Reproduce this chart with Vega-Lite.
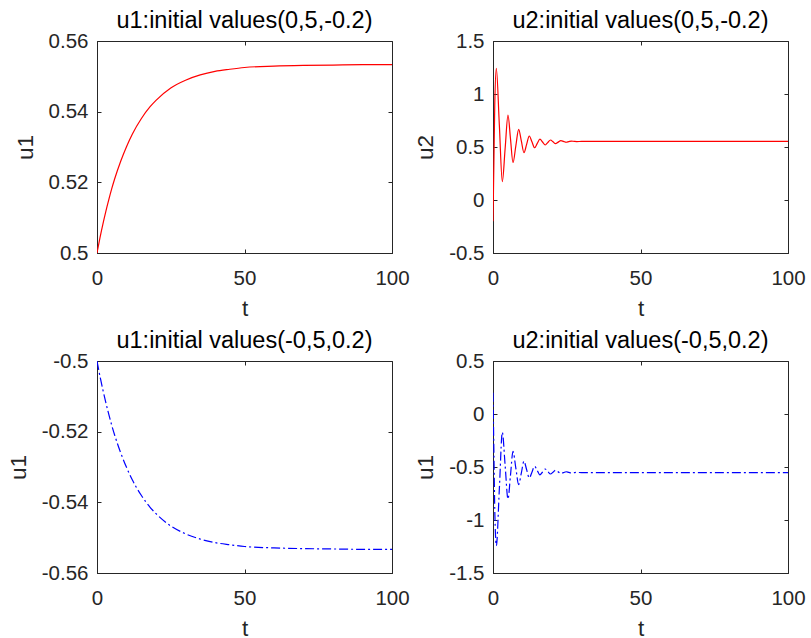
{
  "$schema": "https://vega.github.io/schema/vega-lite/v6.json",
  "background": "white",
  "padding": {"left": 6, "top": 8, "right": 5, "bottom": 0},
  "datasets": {
    "p1": [
      {"t": 0, "u": 0.5}, {"t": 1, "u": 0.5043}, {"t": 2, "u": 0.5082}, {"t": 3, "u": 0.5118},
      {"t": 4, "u": 0.5151}, {"t": 5, "u": 0.5182}, {"t": 6, "u": 0.521}, {"t": 8, "u": 0.5259},
      {"t": 10, "u": 0.5301}, {"t": 12, "u": 0.5337}, {"t": 15, "u": 0.538}, {"t": 18, "u": 0.5414},
      {"t": 20, "u": 0.5432}, {"t": 25, "u": 0.5467}, {"t": 30, "u": 0.5489}, {"t": 35, "u": 0.5504},
      {"t": 40, "u": 0.5514}, {"t": 45, "u": 0.552}, {"t": 50, "u": 0.5525}, {"t": 60, "u": 0.5529},
      {"t": 70, "u": 0.5531}, {"t": 80, "u": 0.5532}, {"t": 90, "u": 0.5533}, {"t": 100, "u": 0.5533}
    ],
    "p2": [
      {"t": 0, "u": -0.2}, {"t": 0.3, "u": 0.35}, {"t": 0.6, "u": 0.9}, {"t": 1.13, "u": 1.242},
      {"t": 2.15, "u": 0.708}, {"t": 3.16, "u": 0.173}, {"t": 4.12, "u": 0.488}, {"t": 5.08, "u": 0.802},
      {"t": 5.93, "u": 0.577}, {"t": 6.78, "u": 0.352}, {"t": 7.74, "u": 0.51}, {"t": 8.7, "u": 0.667},
      {"t": 9.6, "u": 0.557}, {"t": 10.5, "u": 0.446}, {"t": 11.4, "u": 0.525}, {"t": 12.3, "u": 0.604},
      {"t": 13.2, "u": 0.549}, {"t": 14.1, "u": 0.493}, {"t": 15.0, "u": 0.534}, {"t": 15.9, "u": 0.575},
      {"t": 16.8, "u": 0.547}, {"t": 17.7, "u": 0.519}, {"t": 18.6, "u": 0.543}, {"t": 19.5, "u": 0.566},
      {"t": 20.35, "u": 0.549}, {"t": 21.2, "u": 0.531}, {"t": 22.1, "u": 0.546}, {"t": 23.0, "u": 0.56},
      {"t": 23.9, "u": 0.553}, {"t": 24.8, "u": 0.545}, {"t": 25.7, "u": 0.551}, {"t": 26.6, "u": 0.556},
      {"t": 27.5, "u": 0.553}, {"t": 28.4, "u": 0.551}, {"t": 30, "u": 0.553}, {"t": 40, "u": 0.553},
      {"t": 60, "u": 0.553}, {"t": 80, "u": 0.553}, {"t": 100, "u": 0.553}
    ],
    "p3": [
      {"t": 0, "u": -0.5}, {"t": 1, "u": -0.5043}, {"t": 2, "u": -0.5082}, {"t": 3, "u": -0.5118},
      {"t": 4, "u": -0.5151}, {"t": 5, "u": -0.5182}, {"t": 6, "u": -0.521}, {"t": 8, "u": -0.5259},
      {"t": 10, "u": -0.5301}, {"t": 12, "u": -0.5337}, {"t": 15, "u": -0.538}, {"t": 18, "u": -0.5414},
      {"t": 20, "u": -0.5432}, {"t": 25, "u": -0.5467}, {"t": 30, "u": -0.5489}, {"t": 35, "u": -0.5504},
      {"t": 40, "u": -0.5514}, {"t": 45, "u": -0.552}, {"t": 50, "u": -0.5525}, {"t": 60, "u": -0.5529},
      {"t": 70, "u": -0.5531}, {"t": 80, "u": -0.5532}, {"t": 90, "u": -0.5533}, {"t": 100, "u": -0.5533}
    ],
    "p4": [
      {"t": 0, "u": 0.2}, {"t": 0.3, "u": -0.35}, {"t": 0.6, "u": -0.9}, {"t": 1.13, "u": -1.242},
      {"t": 2.15, "u": -0.708}, {"t": 3.16, "u": -0.173}, {"t": 4.12, "u": -0.488}, {"t": 5.08, "u": -0.802},
      {"t": 5.93, "u": -0.577}, {"t": 6.78, "u": -0.352}, {"t": 7.74, "u": -0.51}, {"t": 8.7, "u": -0.667},
      {"t": 9.6, "u": -0.557}, {"t": 10.5, "u": -0.446}, {"t": 11.4, "u": -0.525}, {"t": 12.3, "u": -0.604},
      {"t": 13.2, "u": -0.549}, {"t": 14.1, "u": -0.493}, {"t": 15.0, "u": -0.534}, {"t": 15.9, "u": -0.575},
      {"t": 16.8, "u": -0.547}, {"t": 17.7, "u": -0.519}, {"t": 18.6, "u": -0.543}, {"t": 19.5, "u": -0.566},
      {"t": 20.35, "u": -0.549}, {"t": 21.2, "u": -0.531}, {"t": 22.1, "u": -0.546}, {"t": 23.0, "u": -0.56},
      {"t": 23.9, "u": -0.553}, {"t": 24.8, "u": -0.545}, {"t": 25.7, "u": -0.551}, {"t": 26.6, "u": -0.556},
      {"t": 27.5, "u": -0.553}, {"t": 28.4, "u": -0.551}, {"t": 30, "u": -0.553}, {"t": 40, "u": -0.553},
      {"t": 60, "u": -0.553}, {"t": 80, "u": -0.553}, {"t": 100, "u": -0.553}
    ]
  },
  "columns": 2,
  "spacing": {"row": 108, "column": 101},
  "bounds": "flush",
  "concat": [
    {
      "width": 295, "height": 212,
      "title": "u1:initial values(0,5,-0.2)",
      "data": {"name": "p1"},
      "layer": [
        {
          "mark": {"type": "line", "color": "#ff0000", "strokeWidth": 1.2, "interpolate": "monotone", "clip": true},
          "encoding": {
            "x": {"field": "t", "type": "quantitative", "scale": {"domain": [0, 100], "nice": false},
                  "axis": {"orient": "bottom", "values": [0, 50, 100], "title": "t", "labelExpr": "'' + datum.value"}},
            "y": {"field": "u", "type": "quantitative", "scale": {"domain": [0.5, 0.56], "nice": false, "zero": false},
                  "axis": {"orient": "left", "values": [0.5, 0.52, 0.54, 0.56], "title": "u1", "labelExpr": "'' + datum.value"}}
          }
        },
        {
          "mark": {"type": "line", "opacity": 0},
          "encoding": {
            "x": {"field": "t", "type": "quantitative", "scale": {"domain": [0, 100], "nice": false},
                  "axis": {"orient": "top", "values": [0, 50, 100], "labels": false, "title": null, "domain": false}},
            "y": {"field": "u", "type": "quantitative", "scale": {"domain": [0.5, 0.56], "nice": false, "zero": false},
                  "axis": {"orient": "right", "values": [0.5, 0.52, 0.54, 0.56], "labels": false, "title": null, "domain": false}}
          }
        }
      ],
      "resolve": {"axis": {"x": "independent", "y": "independent"}}
    },
    {
      "width": 295, "height": 212,
      "title": "u2:initial values(0,5,-0.2)",
      "data": {"name": "p2"},
      "layer": [
        {
          "mark": {"type": "line", "color": "#ff0000", "strokeWidth": 1.2, "interpolate": "monotone", "clip": true},
          "encoding": {
            "x": {"field": "t", "type": "quantitative", "scale": {"domain": [0, 100], "nice": false},
                  "axis": {"orient": "bottom", "values": [0, 50, 100], "title": "t", "labelExpr": "'' + datum.value"}},
            "y": {"field": "u", "type": "quantitative", "scale": {"domain": [-0.5, 1.5], "nice": false, "zero": false},
                  "axis": {"orient": "left", "values": [-0.5, 0, 0.5, 1, 1.5], "title": "u2", "labelExpr": "'' + datum.value"}}
          }
        },
        {
          "mark": {"type": "line", "opacity": 0},
          "encoding": {
            "x": {"field": "t", "type": "quantitative", "scale": {"domain": [0, 100], "nice": false},
                  "axis": {"orient": "top", "values": [0, 50, 100], "labels": false, "title": null, "domain": false}},
            "y": {"field": "u", "type": "quantitative", "scale": {"domain": [-0.5, 1.5], "nice": false, "zero": false},
                  "axis": {"orient": "right", "values": [-0.5, 0, 0.5, 1, 1.5], "labels": false, "title": null, "domain": false}}
          }
        }
      ],
      "resolve": {"axis": {"x": "independent", "y": "independent"}}
    },
    {
      "width": 295, "height": 212,
      "title": "u1:initial values(-0,5,0.2)",
      "data": {"name": "p3"},
      "layer": [
        {
          "mark": {"type": "line", "color": "#0000ff", "strokeWidth": 1.2, "strokeDash": [9, 3, 2, 3], "interpolate": "monotone", "clip": true},
          "encoding": {
            "x": {"field": "t", "type": "quantitative", "scale": {"domain": [0, 100], "nice": false},
                  "axis": {"orient": "bottom", "values": [0, 50, 100], "title": "t", "labelExpr": "'' + datum.value"}},
            "y": {"field": "u", "type": "quantitative", "scale": {"domain": [-0.56, -0.5], "nice": false, "zero": false},
                  "axis": {"orient": "left", "values": [-0.56, -0.54, -0.52, -0.5], "title": "u1", "labelExpr": "'' + datum.value"}}
          }
        },
        {
          "mark": {"type": "line", "opacity": 0},
          "encoding": {
            "x": {"field": "t", "type": "quantitative", "scale": {"domain": [0, 100], "nice": false},
                  "axis": {"orient": "top", "values": [0, 50, 100], "labels": false, "title": null, "domain": false}},
            "y": {"field": "u", "type": "quantitative", "scale": {"domain": [-0.56, -0.5], "nice": false, "zero": false},
                  "axis": {"orient": "right", "values": [-0.56, -0.54, -0.52, -0.5], "labels": false, "title": null, "domain": false}}
          }
        }
      ],
      "resolve": {"axis": {"x": "independent", "y": "independent"}}
    },
    {
      "width": 295, "height": 212,
      "title": "u2:initial values(-0,5,0.2)",
      "data": {"name": "p4"},
      "layer": [
        {
          "mark": {"type": "line", "color": "#0000ff", "strokeWidth": 1.2, "strokeDash": [9, 3, 2, 3], "interpolate": "monotone", "clip": true},
          "encoding": {
            "x": {"field": "t", "type": "quantitative", "scale": {"domain": [0, 100], "nice": false},
                  "axis": {"orient": "bottom", "values": [0, 50, 100], "title": "t", "labelExpr": "'' + datum.value"}},
            "y": {"field": "u", "type": "quantitative", "scale": {"domain": [-1.5, 0.5], "nice": false, "zero": false},
                  "axis": {"orient": "left", "values": [-1.5, -1, -0.5, 0, 0.5], "title": "u1", "labelExpr": "'' + datum.value"}}
          }
        },
        {
          "mark": {"type": "line", "opacity": 0},
          "encoding": {
            "x": {"field": "t", "type": "quantitative", "scale": {"domain": [0, 100], "nice": false},
                  "axis": {"orient": "top", "values": [0, 50, 100], "labels": false, "title": null, "domain": false}},
            "y": {"field": "u", "type": "quantitative", "scale": {"domain": [-1.5, 0.5], "nice": false, "zero": false},
                  "axis": {"orient": "right", "values": [-1.5, -1, -0.5, 0, 0.5], "labels": false, "title": null, "domain": false}}
          }
        }
      ],
      "resolve": {"axis": {"x": "independent", "y": "independent"}}
    }
  ],
  "config": {
    "font": "Liberation Sans",
    "view": {"stroke": "#262626", "strokeWidth": 1},
    "axis": {
      "grid": false,
      "domainColor": "#262626",
      "tickColor": "#262626",
      "labelColor": "#262626",
      "titleColor": "#262626",
      "labelFont": "Liberation Sans",
      "titleFont": "Liberation Sans",
      "labelFontSize": 20.5,
      "titleFontSize": 22.5,
      "titleFontWeight": "normal",
      "tickSize": -4,
      "labelPadding": 13,
      "titlePadding": 11,
      "labelFlush": false,
      "labelOverlap": false
    },
    "axisX": {"labelPadding": 19, "titlePadding": 9},
    "title": {"font": "Liberation Sans", "fontSize": 23.5, "fontWeight": "normal", "color": "#000000", "offset": -1}
  }
}
